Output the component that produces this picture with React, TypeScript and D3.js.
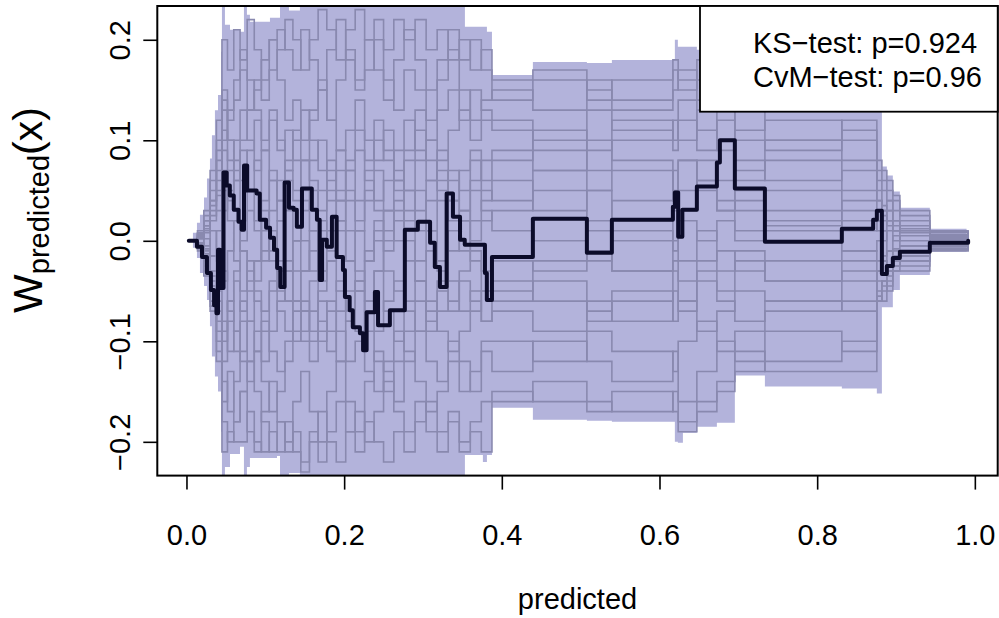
import React, { useEffect, useRef } from 'react';
import * as d3 from 'd3';

const W = 999, H = 618;

// envelope of the simulated processes (step after)
const bandX = [0.0019, 0.0082, 0.0133, 0.0171, 0.0222, 0.026, 0.0298, 0.0323, 0.0361, 0.04, 0.0438, 0.045, 0.0488, 0.0552, 0.0679, 0.0729, 0.0767, 0.0805, 0.1059, 0.1148, 0.1186, 0.13, 0.1439, 0.3532, 0.376, 0.3811, 0.3875, 0.4394, 0.5079, 0.5396, 0.6195, 0.6233, 0.6297, 0.6474, 0.6728, 0.6956, 0.7337, 0.8313, 0.8757, 0.8821, 0.8884, 0.896, 0.9049, 0.9429, 0.9895, 0.9915];
const bandUpper = [0, 0.008, 0.018, 0.026, 0.043, 0.062, 0.082, 0.105, 0.13, 0.145, 0.188, 0.3, 0.215, 0.21, 0.208, 0.3, 0.225, 0.218, 0.222, 0.222, 0.3, 0.229, 0.3, 0.213, 0.213, 0.208, 0.165, 0.178, 0.177, 0.18, 0.2, 0.193, 0.193, 0.19, 0.19, 0.17, 0.15, 0.14, 0.13, 0.074, 0.065, 0.049, 0.033, 0.012, 0.006, 0.006];
const bandLower = [0, -0.007, -0.017, -0.032, -0.045, -0.059, -0.085, -0.115, -0.135, -0.15, -0.19, -0.3, -0.225, -0.212, -0.205, -0.3, -0.225, -0.216, -0.216, -0.214, -0.3, -0.231, -0.3, -0.213, -0.22, -0.213, -0.166, -0.178, -0.179, -0.18, -0.2, -0.201, -0.191, -0.185, -0.181, -0.134, -0.145, -0.147, -0.152, -0.066, -0.066, -0.049, -0.034, -0.011, -0.006, -0.006];

// observed cumulative residual process
const obsX = [0.003, 0.0133, 0.0197, 0.026, 0.031, 0.035, 0.038, 0.04, 0.0425, 0.047, 0.051, 0.055, 0.06, 0.066, 0.07, 0.073, 0.077, 0.089, 0.093, 0.101, 0.106, 0.111, 0.115, 0.119, 0.1245, 0.13, 0.136, 0.14, 0.1465, 0.159, 0.1655, 0.169, 0.172, 0.178, 0.1845, 0.1905, 0.1985, 0.201, 0.207, 0.211, 0.22, 0.224, 0.2285, 0.239, 0.243, 0.258, 0.277, 0.2935, 0.309, 0.315, 0.3215, 0.33, 0.338, 0.347, 0.353, 0.3786, 0.381, 0.3875, 0.4394, 0.5079, 0.5396, 0.617, 0.6195, 0.6237, 0.629, 0.6474, 0.6728, 0.6766, 0.6956, 0.7337, 0.8313, 0.871, 0.8757, 0.8821, 0.8884, 0.896, 0.9049, 0.9429, 0.9915];
const obsY = [0, -0.006, -0.016, -0.032, -0.049, -0.064, -0.072, -0.009, -0.047, 0.068, 0.055, 0.045, 0.031, 0.019, 0.011, 0.075, 0.05, 0.047, 0.021, 0.013, 0.003, -0.009, -0.027, -0.046, 0.058, 0.033, 0.031, 0.014, 0.052, 0.031, 0.021, -0.039, 0.001, -0.006, 0.024, -0.016, -0.029, -0.056, -0.069, -0.086, -0.092, -0.109, -0.071, -0.051, -0.084, -0.069, 0.011, 0.019, -0.002, -0.026, -0.046, 0.047, 0.024, 0.001, -0.004, -0.032, -0.059, -0.016, 0.022, -0.012, 0.021, 0.034, 0.048, 0.004, 0.031, 0.054, 0.078, 0.1, 0.052, -0.001, 0.012, 0.021, 0.03, -0.033, -0.025, -0.017, -0.011, -0.002, 0];

// jump points shared by the simulated processes
const simX = [0.003, 0.014, 0.022, 0.03, 0.038, 0.045, 0.052, 0.06, 0.068, 0.077, 0.086, 0.095, 0.105, 0.115, 0.125, 0.135, 0.145, 0.156, 0.167, 0.178, 0.19, 0.202, 0.214, 0.226, 0.238, 0.25, 0.263, 0.276, 0.29, 0.304, 0.318, 0.332, 0.346, 0.36, 0.374,
  0.3875, 0.4394, 0.5079, 0.5396, 0.617, 0.6237, 0.6474, 0.6728, 0.6956, 0.7337, 0.8313, 0.8757, 0.8821, 0.8884, 0.896, 0.9049, 0.9429];
const simEnd = 0.9915;

const simA = [0, 0.006, 0.02, 0.05, 0.09, 0.15, 0.12, 0.14, 0.17, 0.13, 0.15, 0.18, 0.2, 0.16, 0.12, 0.14, 0.1, 0.13, 0.16, 0.12, 0.09, 0.11, 0.14, 0.1, 0.08, 0.11, 0.07, 0.05, 0.08, 0.1, 0.06, 0.04, 0.07, 0.09, 0.06,
  0.08, 0.11, 0.09, 0.12, 0.1, 0.14, 0.11, 0.09, 0.06, 0.08, 0.05, 0.04, 0.02, 0.03, 0.01, 0.015, 0.005];
const simB = [0, -0.005, -0.02, -0.06, -0.1, -0.16, -0.13, -0.18, -0.15, -0.19, -0.21, -0.17, -0.14, -0.18, -0.2, -0.16, -0.13, -0.17, -0.2, -0.15, -0.12, -0.16, -0.19, -0.14, -0.11, -0.13, -0.16, -0.12, -0.09, -0.12, -0.14, -0.1, -0.12, -0.15, -0.11,
  -0.13, -0.1, -0.12, -0.14, -0.11, -0.16, -0.13, -0.1, -0.12, -0.09, -0.11, -0.06, -0.04, -0.05, -0.03, -0.02, -0.008];
const simC = [0, 0.004, 0.01, 0.03, 0.05, 0.09, 0.04, 0.06, 0.02, 0.05, 0.08, 0.03, -0.01, 0.02, 0.06, 0.04, 0, -0.03, 0.01, 0.05, 0.02, -0.02, 0.01, 0.04, 0.07, 0.03, 0, 0.02, 0.05, 0.01, -0.02, 0.01, 0.03, 0, 0.02,
  0.03, 0.05, 0.02, 0.04, 0.07, 0.05, 0.08, 0.06, 0.03, 0.02, 0.04, 0.03, 0.01, 0.02, 0.01, -0.005, 0.003];
const simD = [0, -0.008, -0.025, -0.05, -0.08, -0.12, -0.08, -0.04, -0.07, -0.03, -0.06, -0.09, -0.05, -0.02, -0.06, -0.1, -0.07, -0.04, -0.08, -0.11, -0.07, -0.05, -0.09, -0.06, -0.03, -0.07, -0.1, -0.06, -0.04, -0.08, -0.05, -0.07, -0.04, -0.06, -0.08,
  -0.06, -0.04, -0.07, -0.05, -0.08, -0.06, -0.03, -0.05, -0.02, -0.04, -0.03, -0.05, -0.04, -0.03, -0.02, -0.025, -0.004];
const simE = [0, 0.01, 0.03, 0.07, 0.12, 0.2, 0.17, 0.21, 0.18, 0.22, 0.19, 0.16, 0.2, 0.21, 0.19, 0.17, 0.21, 0.18, 0.15, 0.19, 0.22, 0.18, 0.15, 0.17, 0.2, 0.16, 0.13, 0.17, 0.15, 0.12, 0.16, 0.19, 0.15, 0.12, 0.14,
  0.15, 0.13, 0.16, 0.14, 0.17, 0.15, 0.18, 0.13, 0.11, 0.12, 0.1, 0.06, 0.05, 0.04, 0.03, 0.02, 0.008];
const simF = [0, -0.01, -0.035, -0.07, -0.12, -0.21, -0.19, -0.2, -0.2, -0.17, -0.2, -0.21, -0.19, -0.21, -0.18, -0.21, -0.23, -0.2, -0.17, -0.2, -0.22, -0.19, -0.21, -0.18, -0.2, -0.22, -0.19, -0.21, -0.18, -0.16, -0.19, -0.17, -0.2, -0.18, -0.16,
  -0.15, -0.16, -0.17, -0.15, -0.17, -0.19, -0.17, -0.15, -0.13, -0.12, -0.1, -0.055, -0.06, -0.045, -0.03, -0.03, -0.01];
const simG = [0, 0.003, 0.015, 0.04, 0.07, 0.11, 0.08, 0.1, 0.13, 0.1, 0.07, 0.09, 0.12, 0.09, 0.11, 0.08, 0.05, 0.08, 0.1, 0.07, 0.04, 0.07, 0.09, 0.06, 0.04, 0.06, 0.09, 0.12, 0.09, 0.06, 0.08, 0.11, 0.13, 0.1, 0.12,
  0.11, 0.09, 0.07, 0.1, 0.12, 0.1, 0.13, 0.1, 0.08, 0.06, 0.07, 0.05, 0.03, 0.04, 0.02, 0.01, 0.002];
const simH = [0, -0.003, -0.01, -0.03, -0.05, -0.08, -0.11, -0.09, -0.12, -0.14, -0.11, -0.08, -0.11, -0.13, -0.1, -0.07, -0.1, -0.12, -0.09, -0.06, -0.09, -0.12, -0.1, -0.13, -0.15, -0.12, -0.09, -0.11, -0.14, -0.17, -0.15, -0.12, -0.15, -0.13, -0.1,
  -0.1, -0.12, -0.09, -0.11, -0.13, -0.1, -0.08, -0.11, -0.09, -0.07, -0.06, -0.04, -0.045, -0.035, -0.025, -0.015, -0.006];
const simI = [0, 0.008, 0.025, 0.06, 0.1, 0.14, 0.1, 0.06, 0.09, 0.05, 0.02, -0.02, 0.01, -0.03, -0.06, -0.03, -0.07, -0.1, -0.06, -0.09, -0.12, -0.08, -0.05, -0.09, -0.12, -0.15, -0.12, -0.09, -0.06, -0.09, -0.07, -0.04, -0.07, -0.05, -0.08,
  -0.07, -0.09, -0.06, -0.08, -0.05, -0.07, -0.04, -0.06, -0.08, -0.06, -0.07, -0.03, -0.02, -0.03, -0.015, -0.01, -0.003];
const simJ = [0, -0.006, -0.02, -0.04, -0.07, -0.1, -0.06, -0.03, 0, 0.03, 0.01, 0.04, 0.07, 0.04, 0.08, 0.11, 0.08, 0.12, 0.15, 0.12, 0.16, 0.19, 0.16, 0.2, 0.17, 0.14, 0.18, 0.21, 0.18, 0.15, 0.18, 0.21, 0.18, 0.2, 0.17,
  0.14, 0.16, 0.15, 0.13, 0.15, 0.17, 0.16, 0.14, 0.1, 0.09, 0.11, 0.07, 0.06, 0.05, 0.04, 0.03, 0.01];
const simK = [0, 0.002, 0.008, 0.02, 0.03, 0.05, 0.02, -0.02, -0.05, -0.02, -0.04, -0.01, 0.03, 0.06, 0.03, 0, 0.03, 0.05, 0.02, -0.01, 0.02, 0.04, 0.01, -0.02, 0.01, 0.03, 0.06, 0.03, 0.01, 0.04, 0.07, 0.04, 0.02, 0.05, 0.03,
  0.01, 0, -0.02, 0.01, -0.01, 0.02, 0, 0.02, 0.01, 0.015, 0.02, 0.01, 0, 0.01, 0, 0.005, 0.001];
const simL = [0, -0.002, -0.008, -0.015, -0.03, -0.04, -0.01, 0.02, -0.01, -0.04, -0.02, 0.01, -0.02, -0.05, -0.03, 0, -0.03, -0.01, -0.04, -0.02, 0.01, -0.02, -0.05, -0.02, 0, -0.03, -0.05, -0.02, -0.04, -0.01, -0.03, -0.06, -0.03, -0.01, -0.03,
  -0.02, -0.03, -0.01, -0.03, -0.02, -0.04, -0.02, -0.01, -0.03, -0.02, -0.01, -0.02, -0.015, -0.01, -0.008, -0.005, -0.002];
const simM = [0, 0.005, 0.015, 0.035, 0.06, 0.1, 0.13, 0.16, 0.19, 0.16, 0.13, 0.1, 0.13, 0.1, 0.07, 0.1, 0.13, 0.1, 0.07, 0.04, 0.07, 0.05, 0.02, 0.05, 0.03, 0, 0.03, 0.01, -0.02, 0.01, 0.04, 0.02, -0.01, 0.02, 0.04,
  0.06, 0.03, 0.05, 0, 0.03, -0.02, 0.01, -0.03, -0.01, -0.04, -0.02, -0.03, -0.02, -0.01, -0.02, -0.01, -0.004];
const simN = [0, -0.007, -0.02, -0.045, -0.09, -0.14, -0.17, -0.14, -0.11, -0.08, -0.11, -0.14, -0.17, -0.15, -0.12, -0.09, -0.06, -0.09, -0.05, -0.02, -0.05, -0.08, -0.04, -0.01, 0.02, -0.01, 0.02, 0.05, 0.03, 0.06, 0.09, 0.06, 0.03, 0.06, 0.08,
  0.09, 0.07, 0.1, 0.08, 0.05, 0.08, 0.06, 0.03, 0.05, 0.03, 0.01, 0.02, 0.03, 0.02, 0.015, 0.01, 0.004];
const simO = [0, 0.002, 0.012, 0.025, 0.045, 0.07, 0.05, 0.08, 0.06, 0.09, 0.12, 0.09, 0.06, 0.04, 0.07, 0.05, 0.08, 0.06, 0.03, 0.06, 0.09, 0.07, 0.04, 0.07, 0.1, 0.08, 0.05, 0.08, 0.11, 0.08, 0.05, 0.07, 0.05, 0.08, 0.05,
  0.04, 0.07, 0.05, 0.07, 0.04, 0.08, 0.05, 0.03, 0.04, 0.05, 0.03, 0.02, 0.025, 0.015, 0.01, 0.008, 0.004];
const simP = [0, -0.004, -0.013, -0.035, -0.06, -0.09, -0.06, -0.09, -0.06, -0.08, -0.05, -0.07, -0.04, -0.07, -0.09, -0.06, -0.09, -0.07, -0.1, -0.07, -0.04, -0.07, -0.04, -0.07, -0.09, -0.06, -0.04, -0.07, -0.09, -0.06, -0.09, -0.11, -0.09, -0.07, -0.05,
  -0.04, -0.06, -0.08, -0.06, -0.03, -0.06, -0.09, -0.07, -0.05, -0.06, -0.04, -0.03, -0.02, -0.025, -0.01, -0.015, -0.005];
const simQ = [0, 0.007, 0.02, 0.04, 0.08, 0.13, 0.1, 0.07, 0.1, 0.13, 0.16, 0.14, 0.17, 0.19, 0.22, 0.2, 0.17, 0.2, 0.23, 0.21, 0.18, 0.21, 0.23, 0.2, 0.22, 0.19, 0.22, 0.2, 0.22, 0.19, 0.21, 0.18, 0.2, 0.17, 0.19,
  0.16, 0.17, 0.14, 0.16, 0.18, 0.16, 0.14, 0.16, 0.14, 0.1, 0.12, 0.08, 0.07, 0.06, 0.045, 0.025, 0.009];
const simR = [0, -0.007, -0.03, -0.065, -0.11, -0.18, -0.2, -0.18, -0.15, -0.12, -0.15, -0.18, -0.21, -0.18, -0.21, -0.19, -0.22, -0.19, -0.22, -0.19, -0.16, -0.19, -0.17, -0.2, -0.17, -0.14, -0.17, -0.19, -0.16, -0.19, -0.21, -0.18, -0.21, -0.19, -0.21,
  -0.16, -0.14, -0.16, -0.17, -0.15, -0.18, -0.16, -0.14, -0.11, -0.13, -0.13, -0.06, -0.05, -0.04, -0.025, -0.02, -0.009];
const simS = [0, 0.003, -0.005, 0.01, -0.02, 0.03, 0.07, 0.03, -0.01, -0.05, -0.02, 0.02, 0.06, 0.02, -0.02, -0.06, -0.03, 0.01, 0.05, 0.08, 0.05, 0.01, -0.03, -0.06, -0.03, 0.01, 0.04, 0, -0.04, -0.07, -0.04, -0.01, 0.02, -0.02, -0.05,
  -0.05, -0.02, 0.01, -0.03, 0, 0.03, 0.06, 0.04, 0, 0.01, -0.01, 0, 0.01, -0.01, 0.005, 0, -0.001];
const simT = [0, -0.004, 0.002, -0.015, 0.01, -0.03, -0.07, -0.11, -0.08, -0.12, -0.09, -0.12, -0.09, -0.06, -0.03, 0, 0.04, 0.01, -0.03, 0.01, 0.04, 0.08, 0.11, 0.08, 0.12, 0.09, 0.06, 0.09, 0.13, 0.1, 0.13, 0.15, 0.12, 0.15, 0.13,
  0.12, 0.1, 0.13, 0.11, 0.09, 0.12, 0.09, 0.12, 0.07, 0.1, 0.08, 0.04, 0.035, 0.03, 0.02, 0.012, 0.006];
const simPaths = [simA, simB, simC, simD, simE, simF, simG, simH, simI, simJ, simK, simL, simM, simN, simO, simP, simQ, simR, simS, simT];

const xTicks = [0, 0.2, 0.4, 0.6, 0.8, 1.0];
const yTicks = [-0.2, -0.1, 0, 0.1, 0.2];
const legendLines = ['KS\u2212test: p=0.924', 'CvM\u2212test: p=0.96'];

const FONT = '"Liberation Sans", Arial, Helvetica, sans-serif';

export default function App() {
  const ref = useRef<SVGSVGElement | null>(null);

  useEffect(() => {
    const svg = d3.select(ref.current);
    svg.selectAll('*').remove();

    const left = 157.3, right = 997.7, top = 6, bottom = 475.6;
    const x = d3.scaleLinear().domain([-0.037, 1.029]).range([left, right]);
    const y = d3.scaleLinear().domain([-0.2336, 0.2336]).range([bottom, top]);

    svg.append('defs').append('clipPath').attr('id', 'plotclip')
      .append('rect')
      .attr('x', left).attr('y', top)
      .attr('width', right - left).attr('height', bottom - top);

    const plot = svg.append('g').attr('clip-path', 'url(#plotclip)');

    // band
    const bandData = bandX.map((d, i) => ({ x: d, lo: bandLower[i], hi: bandUpper[i] }));
    const area = d3.area<{ x: number; lo: number; hi: number }>()
      .x(d => x(d.x))
      .y0(d => y(d.lo))
      .y1(d => y(d.hi))
      .curve(d3.curveStepAfter);
    plot.append('path')
      .datum(bandData)
      .attr('d', area)
      .attr('fill', '#b3b3db');

    // simulated processes
    const line = d3.line<[number, number]>()
      .x(d => x(d[0]))
      .y(d => y(d[1]))
      .curve(d3.curveStepAfter);

    simPaths.forEach(vals => {
      const pts: [number, number][] = simX.map((d, i) => [d, vals[i]]);
      pts.push([simEnd, 0]);
      plot.append('path')
        .datum(pts)
        .attr('d', line)
        .attr('fill', 'none')
        .attr('stroke', '#8989af')
        .attr('stroke-width', 1.6);
    });

    // observed process
    const obs: [number, number][] = obsX.map((d, i) => [d, obsY[i]]);
    plot.append('path')
      .datum(obs)
      .attr('d', line)
      .attr('fill', 'none')
      .attr('stroke', '#0b0b29')
      .attr('stroke-width', 4)
      .attr('stroke-linejoin', 'round')
      .attr('stroke-linecap', 'round');

    // axes
    const xAxis = svg.append('g')
      .attr('transform', 'translate(0,' + bottom + ')')
      .call(d3.axisBottom(x).tickValues(xTicks).tickSize(14).tickFormat(d3.format('.1f')));
    xAxis.select('.domain').remove();
    xAxis.selectAll('line').attr('stroke', '#000').attr('stroke-width', 1.6);
    xAxis.selectAll('text')
      .attr('y', 69).attr('dy', null)
      .attr('font-family', FONT).attr('font-size', 29).attr('fill', '#000');

    const yAxis = svg.append('g')
      .attr('transform', 'translate(' + left + ',0)')
      .call(d3.axisLeft(y).tickValues(yTicks).tickSize(14).tickFormat(d3.format('.1f')));
    yAxis.select('.domain').remove();
    yAxis.selectAll('line').attr('stroke', '#000').attr('stroke-width', 1.6);
    yAxis.selectAll('text')
      .attr('x', null).attr('dy', null)
      .attr('transform', 'translate(-27,0) rotate(-90)')
      .attr('text-anchor', 'middle')
      .attr('font-family', FONT).attr('font-size', 29).attr('fill', '#000');

    // frame
    svg.append('rect')
      .attr('x', left).attr('y', top)
      .attr('width', right - left).attr('height', bottom - top)
      .attr('fill', 'none').attr('stroke', '#000').attr('stroke-width', 2);

    // legend
    svg.append('rect')
      .attr('x', 700).attr('y', top)
      .attr('width', right - 700).attr('height', 105.7)
      .attr('fill', '#fff').attr('stroke', '#000').attr('stroke-width', 1.8);
    legendLines.forEach((t, i) => {
      svg.append('text')
        .attr('x', 753).attr('y', 53 + i * 34)
        .attr('font-family', FONT).attr('font-size', 29)
        .text(t);
    });

    // axis titles
    svg.append('text')
      .attr('x', (left + right) / 2).attr('y', 609)
      .attr('text-anchor', 'middle')
      .attr('font-family', FONT).attr('font-size', 29)
      .text('predicted');

    const ylab = svg.append('text')
      .attr('transform', 'translate(42,210) rotate(-90)')
      .attr('text-anchor', 'middle')
      .attr('font-family', FONT).attr('font-size', 41);
    ylab.append('tspan').text('W');
    ylab.append('tspan').attr('font-size', 29).attr('dy', 7).text('predicted');
    ylab.append('tspan').attr('dy', -7).text('(x)');
  }, []);

  return (
    <svg ref={ref} width={W} height={H}
      style={{ position: 'absolute', left: 0, top: 0, background: '#fff' }} />
  );
}
